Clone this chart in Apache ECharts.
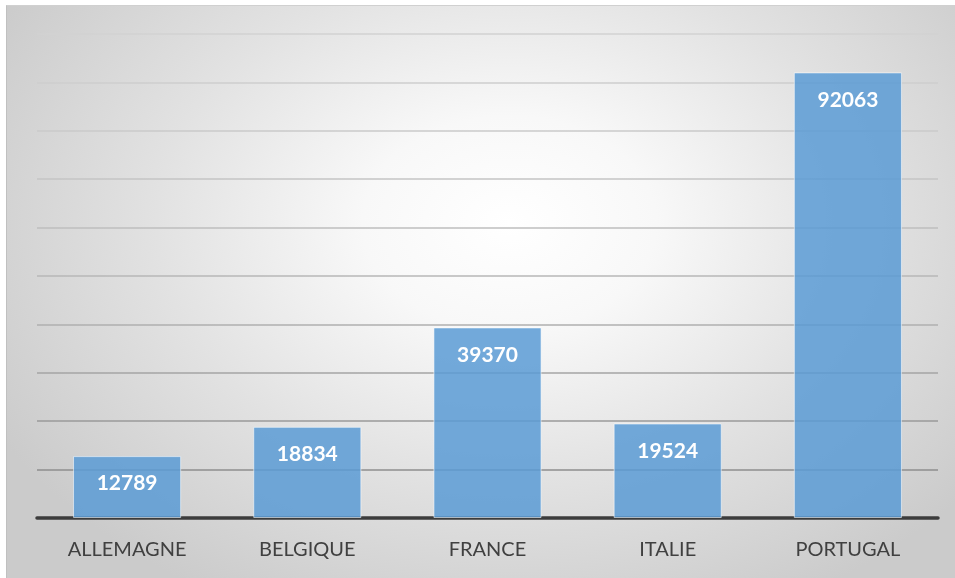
<!DOCTYPE html>
<html>
<head>
<meta charset="utf-8">
<script src="https://cdn.jsdelivr.net/npm/echarts@6/dist/echarts.min.js"></script>
<style>
  html, body { margin: 0; padding: 0; background: #ffffff; width: 955px; height: 578px; overflow: hidden; }
  #bg { position: absolute; left: 6px; top: 5px; width: 949px; height: 573px;
        background: radial-gradient(ellipse 62% 75% at 53% 38%, #ffffff 0%, #f8f8f8 25%, #e2e2e2 60%, #cbcbcb 100%);
        border-top: 1px solid #d0d0d0; border-left: 1px solid #c0c0c0; box-sizing: border-box; }
  #chart { position: absolute; left: 0; top: 0; width: 955px; height: 578px; }
</style>
</head>
<body>
<div id="bg"></div>
<div id="chart"></div>
<script>
const categories = ['ALLEMAGNE', 'BELGIQUE', 'FRANCE', 'ITALIE', 'PORTUGAL'];
const values = [12789, 18834, 39370, 19524, 92063];
const gridColors = ['#888888', '#8e8e8e', '#9a9a9a', '#a5a5a5', '#afafaf', '#b7b7b7', '#bebebe', '#c5c5c5', '#cacaca', '#cecece', '#d2d2d2'];

const chart = echarts.init(document.getElementById('chart'), null, { renderer: 'canvas' });
chart.setOption({
  backgroundColor: 'transparent',
  animation: false,
  grid: { left: 37, right: 17, top: 34, bottom: 60, containLabel: false },
  xAxis: {
    type: 'category',
    data: categories,
    axisLine: { show: true, lineStyle: { color: '#3c3c3c', width: 3.5 } },
    axisTick: { show: false },
    axisLabel: { color: '#404040', fontFamily: 'Lato', fontSize: 20, margin: 22 }
  },
  yAxis: {
    type: 'value',
    min: 0, max: 100000, interval: 10000,
    axisLabel: { show: false },
    axisLine: { show: false },
    axisTick: { show: false },
    splitLine: { show: true, lineStyle: { color: gridColors, width: 1.5 } }
  },
  series: [{
    type: 'bar',
    data: values,
    barCategoryGap: '40%',
    itemStyle: { color: 'rgba(91,155,213,0.85)', borderColor: 'rgba(255,255,255,0.55)', borderWidth: 1 },
    label: {
      show: true, position: 'insideTop', distance: 17,
      color: '#ffffff', fontFamily: 'Lato', fontWeight: 'bold', fontSize: 21
    }
  }]
});
</script>
</body>
</html>
